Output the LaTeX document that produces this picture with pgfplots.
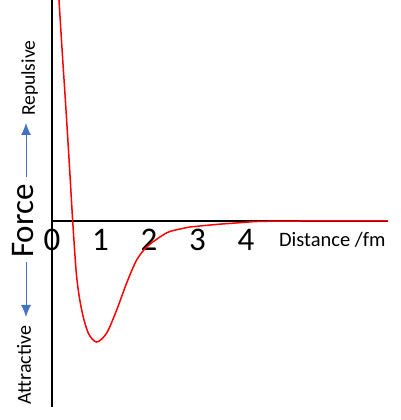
\documentclass[border=0pt]{standalone}
\usepackage{fontspec}
\setmainfont{Carlito}
\usepackage{pgfplots}
\pgfplotsset{compat=1.18}
\usetikzlibrary{arrows.meta}
\definecolor{arrowblue}{HTML}{4472C4}

\begin{document}
\begin{tikzpicture}[x=1pt,y=1pt]
  % page frame: 400 x 420 px, axis box lower left at (0,0)
  \path[use as bounding box] (-52,-13) rectangle (348,407);
  \begin{axis}[
      at={(0,0)}, anchor=south west,
      scale only axis,
      width=336pt, height=407pt,
      xmin=0, xmax=6.93,
      ymin=-186, ymax=221,
      axis x line=middle,
      axis y line=left,
      axis line style={-, line width=1.4pt, black},
      xtick={1,2,3,4},
      extra x ticks={0},
      ytick=\empty,
      major tick length=0pt,
      /pgf/number format/assume math mode=true,
      xticklabel style={anchor=north, inner sep=0pt, yshift=-8pt,
        font=\fontsize{33}{33}\selectfont},
      xlabel={Distance /fm},
      xlabel style={at={(axis cs:4.68,-26)}, anchor=base west, inner sep=0pt,
        font=\fontsize{20.5}{20.5}\selectfont},
      clip=true,
    ]
    \addplot[red, line width=1.5pt, smooth, tension=0.5] coordinates {
      (0.10,255) (0.144,221) (0.215,166) (0.289,111) (0.36,55) (0.427,0)
      (0.509,-56) (0.612,-89) (0.748,-112) (0.922,-121) (1.128,-112)
      (1.334,-89) (1.540,-62) (1.746,-39) (1.953,-26) (2.227,-16)
      (2.433,-10.5) (2.845,-6) (3.05,-5) (3.45,-3.2) (3.876,-1.7)
      (4.23,-0.5) (4.7,-0.1) (5.2,0) (6.93,0)
    };
  \end{axis}
  % left-hand annotation
  \node[rotate=90, anchor=base, inner sep=0pt,
        font=\fontsize{33}{33}\selectfont] at (-18.7,186) {Force};
  \node[rotate=90, anchor=base, inner sep=0pt,
        font=\fontsize{19.5}{19.5}\selectfont] at (-17,328.7) {Repulsive};
  \node[rotate=90, anchor=base, inner sep=0pt,
        font=\fontsize{20}{20}\selectfont] at (-21,42) {Attractive};
  \draw[arrowblue, line width=0.9pt, -{Latex[length=12pt, width=10pt]}]
    (-26,230) -- (-26,284);
  \draw[arrowblue, line width=0.9pt, -{Latex[length=12pt, width=10pt]}]
    (-26,145) -- (-26,90);
\end{tikzpicture}
\end{document}
